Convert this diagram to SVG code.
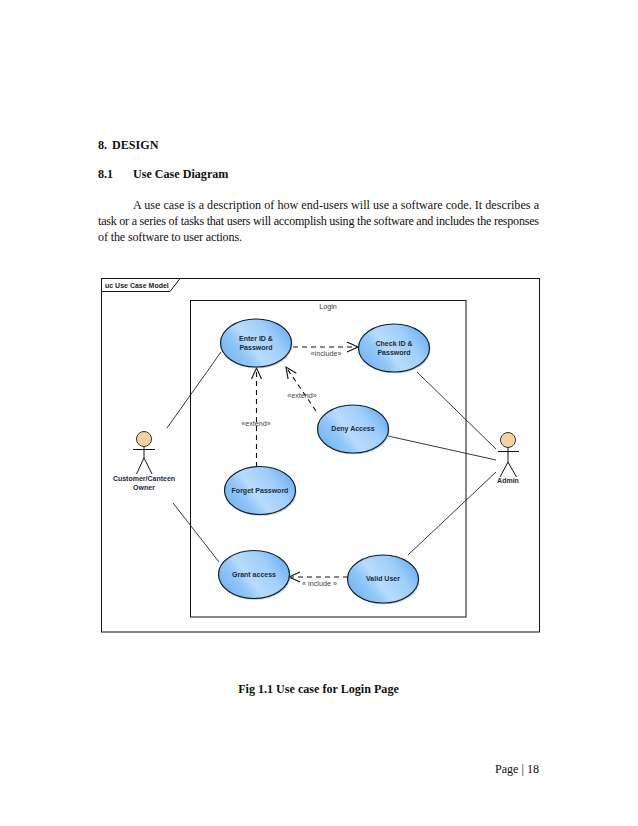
<svg xmlns="http://www.w3.org/2000/svg" width="638" height="826" viewBox="0 0 638 826">
<defs>
<linearGradient id="uc" x1="0" y1="0.75" x2="1" y2="0.25">
<stop offset="0" stop-color="#72b3f0"/><stop offset="0.28" stop-color="#93c8f8"/><stop offset="0.42" stop-color="#b8dbfc"/><stop offset="0.72" stop-color="#a0cefa"/><stop offset="1" stop-color="#68adf0"/>
</linearGradient>
<marker id="open" markerWidth="14" markerHeight="14" refX="12" refY="7" orient="auto" markerUnits="userSpaceOnUse">
<path d="M1 2L12 7L1 12" fill="none" stroke="#111" stroke-width="1.1"/>
</marker>
</defs>
<style>
.doc{font-family:"Liberation Serif",serif;fill:#111}
.b{font-weight:bold}
.body{font-size:12.1px}
.lbl{font-family:"Liberation Sans",sans-serif;font-size:7.2px;fill:#333;text-anchor:middle}
.n{font-family:"Liberation Sans",sans-serif;font-size:7px;font-weight:bold;fill:#1c2a3a;text-anchor:middle}
.st{font-family:"Liberation Sans",sans-serif;font-size:7.2px;fill:#444;text-anchor:middle}
.e{fill:url(#uc);stroke:#10202e;stroke-width:1.2}
.sh{fill:#9aa7b3;opacity:.55}
.a{fill:none;stroke:#222;stroke-width:.9}
.d{fill:none;stroke:#111;stroke-width:1.1;stroke-dasharray:5 4;marker-end:url(#open)}
.act{fill:none;stroke:#111;stroke-width:1}
.head{fill:#f6d3a2;stroke:#333;stroke-width:1}
</style>
<rect width="638" height="826" fill="#fff"/>
<text class="doc b" x="98" y="149" font-size="12.1">8.</text>
<text class="doc b" x="112" y="149" font-size="12.1">DESIGN</text>
<text class="doc b" x="98" y="178" font-size="12.1">8.1</text>
<text class="doc b" x="133" y="178" font-size="12.1">Use Case Diagram</text>
<text class="doc body" x="133" y="209" textLength="406" lengthAdjust="spacing">A use case is a description of how end-users will use a software code. It describes a</text>
<text class="doc body" x="98" y="225" textLength="441" lengthAdjust="spacing">task or a series of tasks that users will accomplish using the software and includes the responses</text>
<text class="doc body" x="98" y="241" textLength="144" lengthAdjust="spacing">of the software to user actions.</text>
<g id="frame">
<rect x="101.5" y="278.5" width="438" height="353.5" fill="none" stroke="#111" stroke-width="1"/>
<path d="M101.5 291.500H170L180 278.500" fill="none" stroke="#111" stroke-width="1"/>
<text x="105" y="287.500" font-family="Liberation Sans, sans-serif" font-size="7" font-weight="bold" fill="#222">uc Use Case Model</text>
</g>
<g id="boundary">
<rect x="190.5" y="300.5" width="275.5" height="316.5" fill="none" stroke="#111" stroke-width="1"/>
<text class="lbl" x="328" y="309">Login</text>
</g>
<g id="connectors">
<path class="a" d="M221 352L167 428"/>
<path class="a" d="M173 503L219 562"/>
<path class="a" d="M417 372L496 449"/>
<path class="a" d="M388 436L496 460"/>
<path class="a" d="M408 555L496 472"/>
<path class="d" d="M293 347H358"/>
<path class="d" d="M316 411L286 367"/>
<path class="d" d="M256.500 467V368"/>
<path class="d" d="M348 577H289"/>
<text class="st" x="326" y="356">«include»</text>
<text class="st" x="302" y="398">«extend»</text>
<text class="st" x="256" y="426">«extend»</text>
<text class="st" x="319.500" y="586">« include »</text>
</g>
<g id="enter-id"><ellipse class="sh" cx="257" cy="344.500" rx="35.500" ry="24"/><ellipse class="e" cx="256" cy="343" rx="35.500" ry="24"/><text class="n" x="256" y="341">Enter ID &amp;</text><text class="n" x="256" y="350">Password</text></g>
<g id="check-id"><ellipse class="sh" cx="395" cy="349.500" rx="35.500" ry="24"/><ellipse class="e" cx="394" cy="348" rx="35.500" ry="24"/><text class="n" x="394" y="346">Check ID &amp;</text><text class="n" x="394" y="355">Password</text></g>
<g id="deny-access"><ellipse class="sh" cx="354" cy="430.500" rx="35.500" ry="24"/><ellipse class="e" cx="353" cy="429" rx="35.500" ry="24"/><text class="n" x="353" y="431">Deny Access</text></g>
<g id="forget-password"><ellipse class="sh" cx="261" cy="492" rx="35.500" ry="24"/><ellipse class="e" cx="260" cy="490.500" rx="35.500" ry="24"/><text class="n" x="260" y="493">Forget Password</text></g>
<g id="grant-access"><ellipse class="sh" cx="255" cy="576" rx="35.500" ry="24"/><ellipse class="e" cx="254" cy="574.500" rx="35.500" ry="24"/><text class="n" x="254" y="577">Grant access</text></g>
<g id="valid-user"><ellipse class="sh" cx="384" cy="580.500" rx="35.500" ry="24"/><ellipse class="e" cx="383" cy="579" rx="35.500" ry="24"/><text class="n" x="383" y="581">Valid User</text></g>
<g id="customer">
<circle class="head" cx="144" cy="439" r="7.500"/>
<path class="act" d="M144 446.500V458M133 449.500H155M144 458L136.500 474M144 458L152 474"/>
<text class="n" x="144" y="481">Customer/Canteen</text><text class="n" x="144" y="490">Owner</text>
</g>
<g id="admin">
<circle class="head" cx="508" cy="440" r="7.500"/>
<path class="act" d="M508 447.500V462M498 451.500H519M508 462L500 477M508 462L516.500 477"/>
<text class="n" x="508" y="483">Admin</text>
</g>
<text class="doc b" x="318.500" y="693" font-size="12.100" text-anchor="middle">Fig 1.1 Use case for Login Page</text>
<text class="doc" x="539" y="773" font-size="12.100" text-anchor="end">Page | 18</text>
</svg>
